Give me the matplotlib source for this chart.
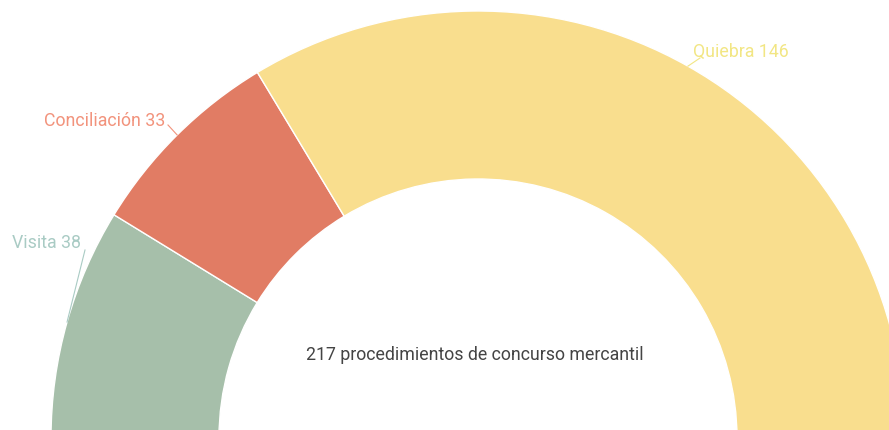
import matplotlib
matplotlib.use('Agg')
import matplotlib.pyplot as plt
import numpy as np

categories = ['Visita', 'Conciliación', 'Quiebra']
values = [38, 33, 146]
colors = ['#a6bfaa', '#e17c64', '#f9de8e']
label_colors = ['#a9cbc4', '#f2937c', '#f2e684']
total = sum(values)
center_text = f'{total} procedimientos de concurso mercantil'

plt.rcParams['font.family'] = ['Roboto', 'DejaVu Sans']

fig = plt.figure(figsize=(8.89, 4.31), dpi=100)
ax = fig.add_axes([0, 0, 1, 1])

# half donut: add an invisible wedge equal to the total
cx, cy, R, ring = 478, -8, 427, 168
wedges, _ = ax.pie(values + [total], colors=colors + ['none'], startangle=180,
                   counterclock=False, radius=R, center=(cx, cy),
                   wedgeprops=dict(width=ring, edgecolor='white', linewidth=1))
wedges[-1].set_edgecolor('none')

ax.set_xlim(0, 889)
ax.set_ylim(0, 431)
ax.set_aspect('equal')
ax.axis('off')

# labels with short leader lines to the outer edge of each slice
label_pos = [(46, 188), (105, 310), (741, 379)]
line_start = [(85, 180), (168, 305), (700, 372)]
for w, name, v, c, (lx, ly), (sx, sy) in zip(wedges, categories, values, label_colors, label_pos, line_start):
    mid = np.deg2rad((w.theta1 + w.theta2) / 2)
    ex, ey = cx + R * np.cos(mid), cy + R * np.sin(mid)
    ax.text(lx, ly, f'{name} {v}', color=c, fontsize=12.8, ha='center', va='center')
    ax.plot([sx, ex], [sy, ey], color=c, lw=0.8)

ax.text(475, 76, center_text, color='#444444', fontsize=12.8, ha='center', va='center')

fig.savefig('out.png', dpi=100)
